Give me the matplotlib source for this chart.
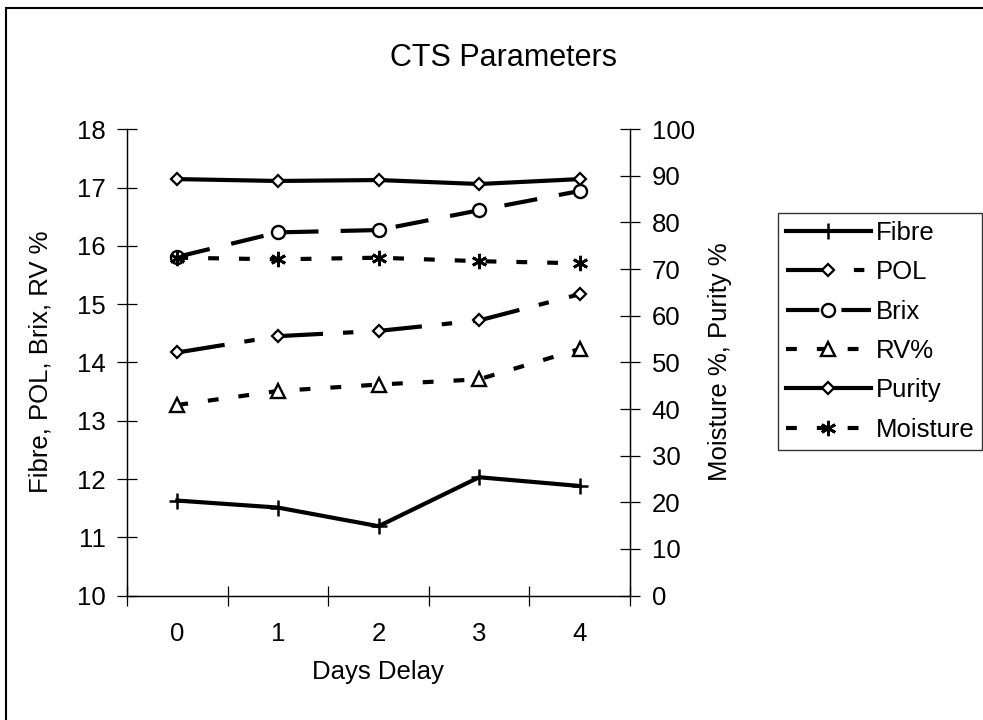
import matplotlib
matplotlib.use("Agg")
import matplotlib.pyplot as plt
from matplotlib.patches import Rectangle

plt.rcParams['font.family'] = ['Liberation Sans', 'DejaVu Sans']

days = [0, 1, 2, 3, 4]
fibre = [11.63, 11.51, 11.19, 12.03, 11.88]
pol = [14.17, 14.45, 14.54, 14.72, 15.17]
brix = [15.81, 16.23, 16.27, 16.61, 16.94]
rv = [13.27, 13.51, 13.62, 13.71, 14.23]
purity = [89.3, 88.9, 89.1, 88.25, 89.3]
moisture = [72.45, 72.1, 72.45, 71.7, 71.25]

W, H = 983, 720
fig = plt.figure(figsize=(W / 100, H / 100), dpi=100)
ax = fig.add_axes([127 / W, 1 - 595.6 / H, (630 - 127) / W, (595.6 - 129.2) / H])
ax2 = ax.twinx()

lw = 3.0
fs = 18.5

ax.plot(days, fibre, color='black', lw=lw, marker='+', ms=11, mew=1.8, label='Fibre')
ax.plot(days, pol, color='black', lw=lw, dashes=(11.5, 4.8, 2.5, 5.0), marker='D', ms=6.6,
        mfc='white', mec='black', mew=1.6, label='POL')
ax.plot(days, brix, color='black', lw=lw, dashes=(8.0, 5.3), marker='o', ms=9.4,
        mfc='white', mec='black', mew=1.7, label='Brix')
ax.plot(days, rv, color='black', lw=lw, dashes=(2.6, 4.8), marker='^', ms=10,
        mfc='white', mec='black', mew=1.7, label='RV%')
ax2.plot(days, purity, color='black', lw=lw, marker='D', ms=6.6,
         mfc='white', mec='black', mew=1.6, label='Purity')
ax2.plot(days, moisture, color='black', lw=lw, dashes=(2.6, 4.8), marker=(6, 2, 0), ms=11,
         mec='black', mew=2.0, label='Moisture')

ax.set_xlim(-0.5, 4.5)
ax.set_ylim(10, 18)
ax2.set_ylim(0, 100)

ax.set_yticks(range(10, 19))
ax2.set_yticks(range(0, 101, 10))
ax.set_xticks([x - 0.5 for x in range(6)])
ax.set_xticklabels([])
ax.set_xticks(days, minor=True)
ax.set_xticklabels([str(d) for d in days], minor=True)

ax.tick_params(axis='y', direction='inout', length=15, width=0.9, labelsize=fs, pad=8)
ax2.tick_params(axis='y', direction='inout', length=15, width=0.9, labelsize=fs, pad=8)
ax.tick_params(axis='x', which='major', direction='inout', length=15, width=0.9)
ax.tick_params(axis='x', which='minor', length=0, labelsize=fs, pad=19)

for a in (ax, ax2):
    a.spines['top'].set_visible(False)
    for s in ('left', 'right', 'bottom'):
        a.spines[s].set_linewidth(0.9)

fig.text(504 / W, 1 - 58 / H, 'CTS Parameters', ha='center', va='center', fontsize=22)
fig.text(378 / W, 1 - 672 / H, 'Days Delay', ha='center', va='center', fontsize=fs)
fig.text(41 / W, 1 - 362 / H, 'Fibre, POL, Brix, RV %', ha='center', va='center',
         rotation=90, fontsize=fs)
fig.text(720 / W, 1 - 362 / H, 'Moisture %, Purity %', ha='center', va='center',
         rotation=90, fontsize=fs)

h1, l1 = ax.get_legend_handles_labels()
h2, l2 = ax2.get_legend_handles_labels()
leg = fig.legend(h1 + h2, l1 + l2, loc='upper left', bbox_to_anchor=(778 / W, 1 - 213 / H),
                 frameon=True, fancybox=False, edgecolor='black', fontsize=fs,
                 handlelength=3.3, handletextpad=0.2, labelspacing=0.6,
                 borderpad=0.3, borderaxespad=0)
leg.get_frame().set_linewidth(1.0)

fig.patches.append(Rectangle((6 / W, -0.1), 1.2, 1 - 8 / H + 0.1, transform=fig.transFigure,
                             fill=False, edgecolor='black', lw=1.5))

fig.savefig('out.png', dpi=100)
